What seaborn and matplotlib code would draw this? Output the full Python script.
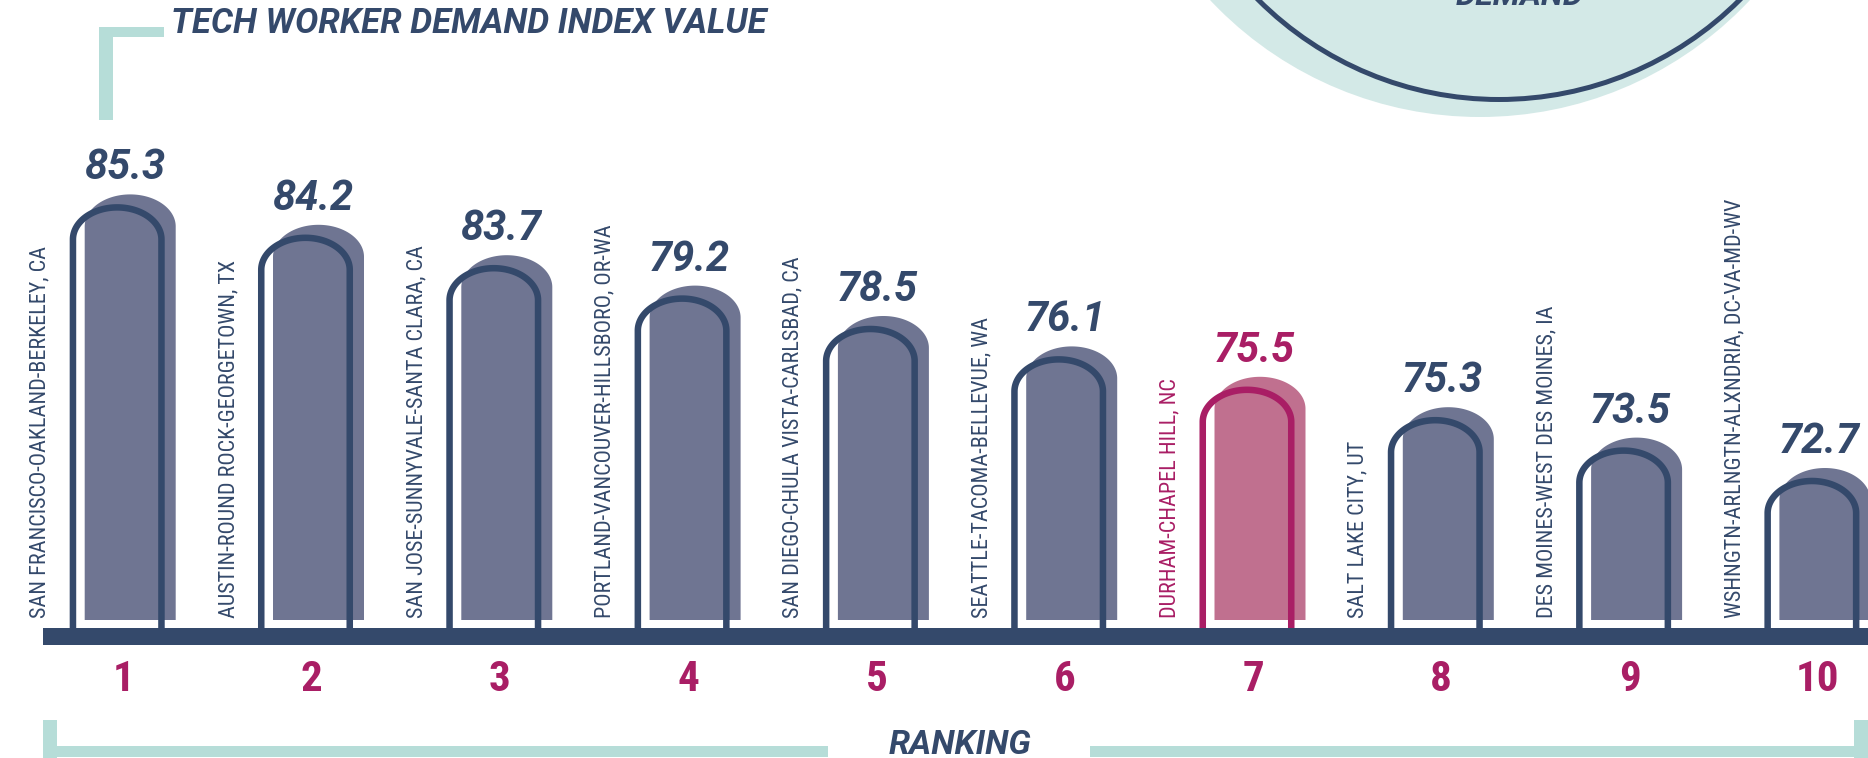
import numpy as np
import pandas as pd
import matplotlib
matplotlib.use("Agg")
import matplotlib.pyplot as plt
import matplotlib.font_manager as fm
import seaborn as sns
from matplotlib.path import Path
from matplotlib.patches import PathPatch, Rectangle, Circle
from matplotlib.transforms import ScaledTranslation, Affine2D

# ---------------- data ----------------
cities = [
    "SAN FRANCISCO-OAKLAND-BERKELEY, CA",
    "AUSTIN-ROUND ROCK-GEORGETOWN, TX",
    "SAN JOSE-SUNNYVALE-SANTA CLARA, CA",
    "PORTLAND-VANCOUVER-HILLSBORO, OR-WA",
    "SAN DIEGO-CHULA VISTA-CARLSBAD, CA",
    "SEATTLE-TACOMA-BELLEVUE, WA",
    "DURHAM-CHAPEL HILL, NC",
    "SALT LAKE CITY, UT",
    "DES MOINES-WEST DES MOINES, IA",
    "WSHNGTN-ARLNGTN-ALXNDRIA, DC-VA-MD-WV",
]
index_values = [85.3, 84.2, 83.7, 79.2, 78.5, 76.1, 75.5, 75.3, 73.5, 72.7]
ranks = [1, 2, 3, 4, 5, 6, 7, 8, 9, 10]
highlight = "DURHAM-CHAPEL HILL, NC"
title_text = "TECH WORKER DEMAND INDEX VALUE"
xlabel_text = "RANKING"
circle_text = "DEMAND"

# the infographic steps bar heights by rank
bar_height = [len(ranks) + 5 - r for r in ranks]

df = pd.DataFrame({"city": cities, "value": index_values,
                   "rank": ranks, "bar_height": bar_height})

# ---------------- style ----------------
NAVY = "#34496b"
SLATE = "#6f7592"
MAGENTA = "#a91e65"
PINK = "#c0708f"
TEAL = "#b6ddd8"
TEAL_LIGHT = "#d3e9e7"

sns.set_theme(style="white")
plt.rcParams["font.family"] = ["Roboto", "DejaVu Sans"]

# pick a condensed face if one is installed
_names = {f.name for f in fm.fontManager.ttflist}
COND_FAMILY, COND_STRETCH = "Roboto", "normal"
for _n in ["Roboto Condensed", "Liberation Sans Narrow", "Noto Sans Condensed",
           "Open Sans Condensed", "DejaVu Sans Condensed"]:
    if _n in _names:
        COND_FAMILY = _n
        break
else:
    for _f in fm.fontManager.ttflist:
        if str(_f.stretch).lower() in ("condensed", "semi-condensed",
                                       "extra-condensed") and "Mono" not in _f.name \
                and "Serif" not in _f.name:
            COND_FAMILY, COND_STRETCH = _f.name, "condensed"
            break

W, H = 1868, 758
fig = plt.figure(figsize=(W / 100, H / 100), dpi=100)
ax = fig.add_axes([0, 0, 1, 1])

STEP = 30.4      # px per bar-height unit
BASE = 620.0     # px (from top) of bar bottoms
PITCH = 188.3    # px between bars
X0 = 130.2       # px of first bar centre

palette = {c: (PINK if c == highlight else SLATE) for c in cities}
sns.barplot(data=df, x="city", y="bar_height", hue="city", order=cities,
            palette=palette, width=91 / PITCH, legend=False, ax=ax,
            saturation=1)

ax.set_xlim(-X0 / PITCH, (W - X0) / PITCH)
ax.set_ylim(-(H - BASE) / STEP, BASE / STEP)
ax.axis("off")


def off(dx, dy):
    """offset in pixels (dy positive = down) on top of data coords"""
    return ax.transData + ScaledTranslation(dx / 100, -dy / 100, fig.dpi_scale_trans)


px = Affine2D().scale(0.01, -0.01).translate(0, H / 100) + fig.dpi_scale_trans


def arch(x0, x1, y0, y1, ry, closed):
    cx, rx = (x0 + x1) / 2, (x1 - x0) / 2
    t = np.linspace(np.pi, 0, 80)
    arc = np.column_stack([cx + rx * np.cos(t), (y1 - ry) + ry * np.sin(t)])
    verts = [(x0, y0)] + arc.tolist() + [(x1, y0)]
    codes = [Path.MOVETO] + [Path.LINETO] * (len(verts) - 1)
    if closed:
        verts.append((x0, y0))
        codes.append(Path.CLOSEPOLY)
    return Path(verts, codes)


ry = 32 / STEP
shrink = 1.25 / PITCH
bars = list(ax.patches)
for p in bars:
    x0, w, h = p.get_x(), p.get_width(), p.get_height()
    k = int(round(x0 + w / 2))
    city = cities[k]
    fc = p.get_facecolor()
    p.set_visible(False)
    ax.add_patch(PathPatch(arch(x0, x0 + w, 0, h, ry, True), facecolor=fc,
                           edgecolor="none", zorder=2))
    oc = MAGENTA if city == highlight else NAVY
    ax.add_patch(PathPatch(arch(x0 + shrink, x0 + w - shrink, 0, h, ry, False),
                           facecolor="none", edgecolor=oc, linewidth=4.7,
                           joinstyle="round", capstyle="butt", zorder=3,
                           transform=off(-13, 13)))

# labels
city_texts = []
for k, (city, val, r, bh) in enumerate(zip(cities, index_values, ranks, bar_height)):
    col = MAGENTA if city == highlight else NAVY
    ax.text(k, bh, f"{val:.1f}", transform=off(-6, -15), ha="center",
            va="baseline", fontsize=30, fontweight="bold", fontstyle="italic",
            color=col, family=["Roboto", "DejaVu Sans"], zorder=6)
    city_texts.append(ax.text(k, 0, city, transform=off(-90, -2), rotation=90,
                              ha="center", va="bottom", fontsize=16, color=col,
                              family=[COND_FAMILY, "DejaVu Sans"],
                              fontstretch=COND_STRETCH, zorder=6))
    ax.text(k, -(691 - BASE) / STEP, str(r), transform=off(-7, 0), ha="center",
            va="baseline", fontsize=31, fontweight="bold", color=MAGENTA,
            family=[COND_FAMILY, "DejaVu Sans"], fontstretch=COND_STRETCH,
            zorder=6)

# fit city label size so the longest label spans ~373 px like the original
renderer = fig.canvas.get_renderer()
ext = city_texts[0].get_window_extent(renderer)
new_size = 16 * 373.0 / ext.height
new_size = min(new_size, 22)
for t in city_texts:
    t.set_fontsize(new_size)

# baseline
ax.axhspan(-(645 - BASE) / STEP, -(628 - BASE) / STEP, xmin=43 / W, xmax=1,
           color=NAVY, zorder=5, linewidth=0)

# decorations (pixel coords)
for (x, y, w, h) in [(99, 27, 14, 93), (99, 27, 65, 10),
                     (43, 720, 14, 38), (43, 746, 785, 11),
                     (1090, 746, 778, 11), (1854, 720, 14, 38)]:
    ax.add_patch(Rectangle((x, y), w, h, transform=px, facecolor=TEAL,
                           edgecolor="none", clip_on=False, zorder=1))

ax.add_patch(Circle((1480, -253), 370, transform=px, facecolor=TEAL_LIGHT,
                    edgecolor="none", clip_on=False, zorder=0.5))
ax.add_patch(Circle((1499, -241), 340.5, transform=px, facecolor="none",
                    edgecolor=NAVY, linewidth=3.6, clip_on=False, zorder=0.6))

ax.text(171, 33, title_text, transform=px, ha="left", va="baseline",
        fontsize=25, fontweight="bold", fontstyle="italic", color=NAVY)
ax.text(960, 754, xlabel_text, transform=px, ha="center", va="baseline",
        fontsize=24.5, fontweight="bold", fontstyle="italic", color=NAVY)
ax.text(1520, 5, circle_text, transform=px, ha="center", va="baseline",
        fontsize=23, fontweight="bold", fontstyle="italic", color=NAVY)

fig.savefig("out.png", dpi=100)
